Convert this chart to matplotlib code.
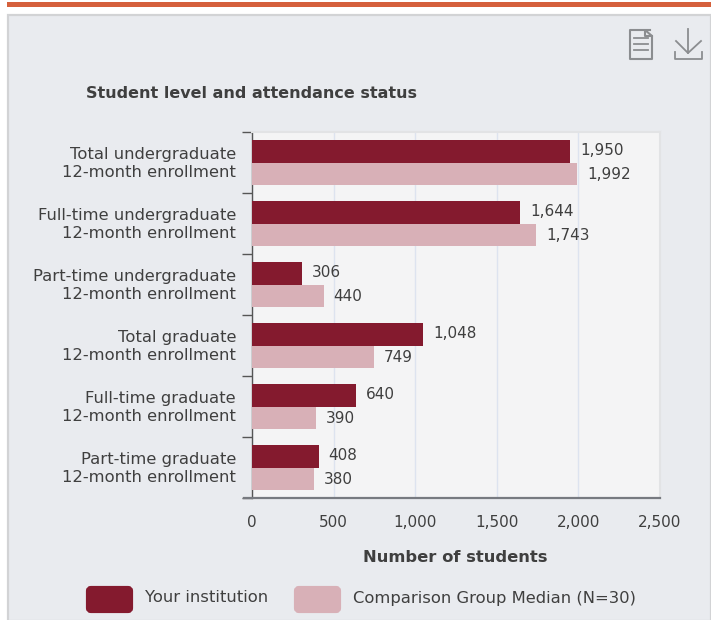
import matplotlib
matplotlib.use("Agg")
import matplotlib.pyplot as plt
from matplotlib.patches import Rectangle, FancyBboxPatch

categories = ["Total undergraduate\n12-month enrollment",
              "Full-time undergraduate\n12-month enrollment",
              "Part-time undergraduate\n12-month enrollment",
              "Total graduate\n12-month enrollment",
              "Full-time graduate\n12-month enrollment",
              "Part-time graduate\n12-month enrollment"]
institution = [1950, 1644, 306, 1048, 640, 408]
comparison = [1992, 1743, 440, 749, 390, 380]
xticks = [0, 500, 1000, 1500, 2000, 2500]
series_names = ["Your institution", "Comparison Group Median (N=30)"]
title = "Student level and attendance status"
xlabel = "Number of students"

W, H = 711, 620
DARK, LIGHT = "#841a2e", "#d8b0b7"
PANEL, TXT = "#e9ebef", "#3f3f3f"
FS = 11.8
FS_NUM = 11.0
plt.rcParams["font.family"] = ["DejaVu Sans"]

fig = plt.figure(figsize=(W / 100, H / 100), dpi=100, facecolor="white")

# page chrome in pixel coordinates
bg = fig.add_axes([0, 0, 1, 1], zorder=0)
bg.set_xlim(0, W); bg.set_ylim(H, 0); bg.axis("off")
bg.add_patch(Rectangle((7, 2), 704, 5, fc="#d5603c", ec="none"))
bg.add_patch(Rectangle((8, 15), 703, 606, fc=PANEL, ec="#d2d3d5", lw=1.6))

# document icon
ic = "#8b8d90"
bg.plot([650, 630, 630, 652, 652, 645, 645, 652], [30, 30, 59, 59, 36, 30, 36, 36], color=ic, lw=1.5)
for y in (38, 44, 50):
    bg.plot([634, 648], [y, y], color=ic, lw=1.3)
# download icon
bg.plot([688, 688], [29, 53], color=ic, lw=1.3)
bg.plot([676, 688, 701], [41, 53, 41], color=ic, lw=1.3)
bg.plot([675, 675, 702, 702], [52, 59, 59, 52], color=ic, lw=1.3)

ax = fig.add_axes([252 / W, 1 - 498 / H, 408 / W, 366 / H], zorder=1)
ax.set_facecolor("#f4f4f5")
ys = list(range(len(categories)))
h = 22.5 / 61
ax.barh([y - h / 2 for y in ys], institution, height=h, color=DARK, zorder=3)
ax.barh([y + h / 2 for y in ys], comparison, height=h, color=LIGHT, zorder=3)
for y, a, b in zip(ys, institution, comparison):
    ax.text(a + 60, y - h / 2 - 0.02, f"{a:,}", va="center", ha="left", fontsize=FS_NUM, color=TXT)
    ax.text(b + 60, y + h / 2 + 0.02, f"{b:,}", va="center", ha="left", fontsize=FS_NUM, color=TXT)
ax.set_xlim(0, 2500)
ax.set_ylim(len(categories) - 0.5, -0.5)
ax.set_xticks(xticks)
ax.set_xticklabels([f"{v:,}" for v in xticks], fontsize=FS_NUM, color=TXT)
ax.set_yticks([y - 0.033 for y in ys])
ax.set_yticklabels(categories, fontsize=FS, color=TXT, linespacing=1.22)
ax.set_yticks([y - 0.5 for y in range(len(categories) + 1)], minor=True)
ax.tick_params(axis="y", which="major", length=0, pad=11.5)
ax.tick_params(axis="y", which="minor", length=7, width=1, color="#555")
ax.tick_params(axis="x", length=0, pad=12)
ax.grid(axis="x", color="#dde3ef", lw=1, zorder=0)
ax.set_axisbelow(True)
for s in ("top", "right"):
    ax.spines[s].set_color("#e2e3e5")
    ax.spines[s].set_linewidth(1.5)
ax.spines["left"].set_color("#555")
ax.spines["left"].set_linewidth(1)
ax.spines["bottom"].set_color("#777a80")
ax.spines["bottom"].set_linewidth(1.6)
ax.spines["bottom"].set_bounds(-50, 2500)
ax.spines["bottom"].set_clip_on(False)

bg.text(86, 93, title, fontsize=11.5, fontweight="bold", color=TXT, va="center", ha="left")
bg.text(455, 557, xlabel, fontsize=11.8, fontweight="bold", color=TXT, va="center", ha="center")

# legend
for x, c in zip((86, 294), (DARK, LIGHT)):
    bg.add_patch(FancyBboxPatch((x + 2, 588), 43, 23, boxstyle="round,pad=0,rounding_size=3",
                                fc=c, ec=c, lw=3))
bg.text(145, 598, series_names[0], fontsize=FS, color=TXT, va="center", ha="left")
bg.text(353, 598, series_names[1], fontsize=FS, color=TXT, va="center", ha="left")

fig.savefig("out.png", dpi=100, facecolor="white")
